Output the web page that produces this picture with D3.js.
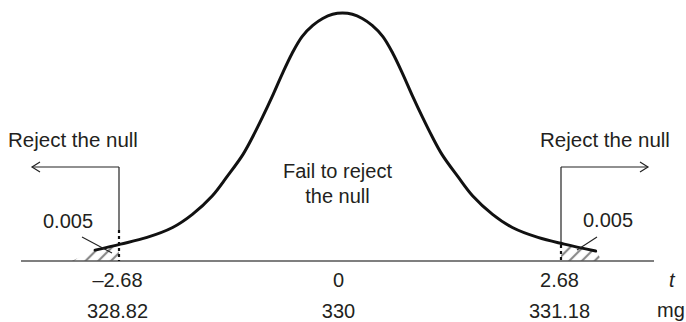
<!DOCTYPE html>
<html>
<head>
<meta charset="utf-8">
<script src="https://cdn.jsdelivr.net/npm/d3@7"></script>
<style>
  html, body { margin: 0; padding: 0; background: #fff; }
  svg { display: block; }
  text { font-family: "Liberation Sans", Arial, Helvetica, sans-serif; fill: #231f20; }
</style>
</head>
<body>
<svg id="chart" width="686" height="322"></svg>
<script>
// Sampled points of the density curve (t value, relative height)
const curveT = [-2.97, -2.66, -2.34, -2.03, -1.79, -1.55, -1.37, -1.18, -1.06, -0.94, -0.82,
                -0.70, -0.58, -0.46, -0.33, -0.21, -0.09, 0.03, 0.15, 0.27, 0.39, 0.52,
                0.64, 0.76, 0.88, 1.00, 1.12, 1.24, 1.43, 1.61, 1.85, 2.09, 2.40, 2.72, 3.10];
const curveH = [0.044, 0.068, 0.095, 0.135, 0.188, 0.262, 0.340, 0.428, 0.500, 0.580, 0.665,
                0.755, 0.838, 0.905, 0.950, 0.978, 0.995, 1.000, 0.995, 0.978, 0.950, 0.905,
                0.838, 0.755, 0.665, 0.580, 0.500, 0.428, 0.340, 0.262, 0.188, 0.135, 0.095, 0.068, 0.040];

// Where the shaded tails meet the axis
const tailFootT = [-3.25, 3.165];

// Critical values and tick labels
const critical = [-2.68, 2.68];
const tTicks = [-2.68, 0, 2.68];
const tTickLabels = ["\u20132.68", "0", "2.68"];
const mgTicks = [328.82, 330, 331.18];
const mgTickLabels = ["328.82", "330", "331.18"];
const tailArea = ["0.005", "0.005"];

const svg = d3.select("#chart");

const x = d3.scaleLinear().domain([-2.68, 2.68]).range([119, 561]);
const xMg = d3.scaleLinear().domain([328.82, 331.18]).range([x(-2.68), x(2.68)]);
const y = d3.scaleLinear().domain([0, 1]).range([261, 13]);

const pts = curveT.map((t, i) => [t, curveH[i]]);
const ext = [[tailFootT[0], 0], ...pts, [tailFootT[1], 0]];

// hatch pattern for rejection regions
const defs = svg.append("defs");
defs.append("pattern")
  .attr("id", "hatch")
  .attr("patternUnits", "userSpaceOnUse")
  .attr("width", 9).attr("height", 9)
  .attr("patternTransform", "rotate(45)")
  .append("line")
  .attr("x1", 2).attr("y1", -1).attr("x2", 2).attr("y2", 10)
  .attr("stroke", "#8a8a8a").attr("stroke-width", 2.2);

defs.append("clipPath").attr("id", "tails")
  .selectAll("rect")
  .data([[0, x(critical[0])], [x(critical[1]), 686]])
  .join("rect")
  .attr("x", d => d[0]).attr("y", 0)
  .attr("width", d => d[1] - d[0]).attr("height", 322);

const area = d3.area()
  .x(d => x(d[0]))
  .y0(y(0))
  .y1(d => y(d[1]))
  .curve(d3.curveCatmullRom);

svg.append("path")
  .datum(ext)
  .attr("d", area)
  .attr("fill", "url(#hatch)")
  .attr("clip-path", "url(#tails)");

// horizontal axis
svg.append("line")
  .attr("x1", 21).attr("x2", 654)
  .attr("y1", y(0)).attr("y2", y(0))
  .attr("stroke", "#555").attr("stroke-width", 1.6);

// critical value markers: dashed near the axis, solid above
const arrowY = 167;
const dashTop = [230, 245];
critical.forEach((c, i) => {
  const cx = x(c);
  svg.append("line")
    .attr("x1", cx).attr("x2", cx)
    .attr("y1", dashTop[i]).attr("y2", y(0))
    .attr("stroke", "#111").attr("stroke-width", 2.2)
    .attr("stroke-dasharray", "3,3");
  svg.append("line")
    .attr("x1", cx).attr("x2", cx)
    .attr("y1", arrowY).attr("y2", dashTop[i])
    .attr("stroke", "#222").attr("stroke-width", 1.2);
  const tip = i === 0 ? 32 : 648;
  const dir = i === 0 ? 1 : -1;
  svg.append("line")
    .attr("x1", cx).attr("x2", tip)
    .attr("y1", arrowY).attr("y2", arrowY)
    .attr("stroke", "#222").attr("stroke-width", 1.2);
  svg.append("path")
    .attr("d", `M${tip + dir * 8},${arrowY - 5}L${tip},${arrowY}L${tip + dir * 8},${arrowY + 5}`)
    .attr("fill", "none").attr("stroke", "#222").attr("stroke-width", 1.2);
});

// density curve
svg.append("path")
  .datum(pts)
  .attr("d", d3.line().x(d => x(d[0])).y(d => y(d[1])).curve(d3.curveCatmullRom))
  .attr("fill", "none")
  .attr("stroke", "#111")
  .attr("stroke-width", 3)
  .attr("stroke-linecap", "round");

// tail area callouts
const callouts = [
  { text: tailArea[0], tx: 43, ty: 228, from: [82, 237], to: [112, 253] },
  { text: tailArea[1], tx: 583, ty: 227, from: [597, 237], to: [577, 250] }
];
callouts.forEach(c => {
  svg.append("line")
    .attr("x1", c.from[0]).attr("y1", c.from[1])
    .attr("x2", c.to[0]).attr("y2", c.to[1])
    .attr("stroke", "#222").attr("stroke-width", 1.1);
  svg.append("text")
    .attr("x", c.tx).attr("y", c.ty)
    .attr("font-size", 20)
    .text(c.text);
});

// region labels
svg.append("text").attr("x", 8).attr("y", 147).attr("font-size", 20.5).text("Reject the null");
svg.append("text").attr("x", 540).attr("y", 147).attr("font-size", 20.5).text("Reject the null");
const mid = svg.append("text").attr("text-anchor", "middle").attr("font-size", 20);
mid.append("tspan").attr("x", 337.5).attr("y", 178).text("Fail to reject");
mid.append("tspan").attr("x", 337.5).attr("y", 203).text("the null");

// tick labels: t scale and mg scale
svg.append("g").selectAll("text")
  .data(tTicks)
  .join("text")
  .attr("x", d => x(d) - 1.5)
  .attr("y", 287)
  .attr("text-anchor", "middle")
  .attr("font-size", 20)
  .text((d, i) => tTickLabels[i]);

svg.append("g").selectAll("text")
  .data(mgTicks)
  .join("text")
  .attr("x", d => xMg(d) - 1.5)
  .attr("y", 318)
  .attr("text-anchor", "middle")
  .attr("font-size", 20)
  .text((d, i) => mgTickLabels[i]);

svg.append("text").attr("x", 669).attr("y", 287).attr("font-size", 20)
  .attr("font-style", "italic").text("t");
svg.append("text").attr("x", 657).attr("y", 317).attr("font-size", 20).text("mg");
</script>
</body>
</html>
